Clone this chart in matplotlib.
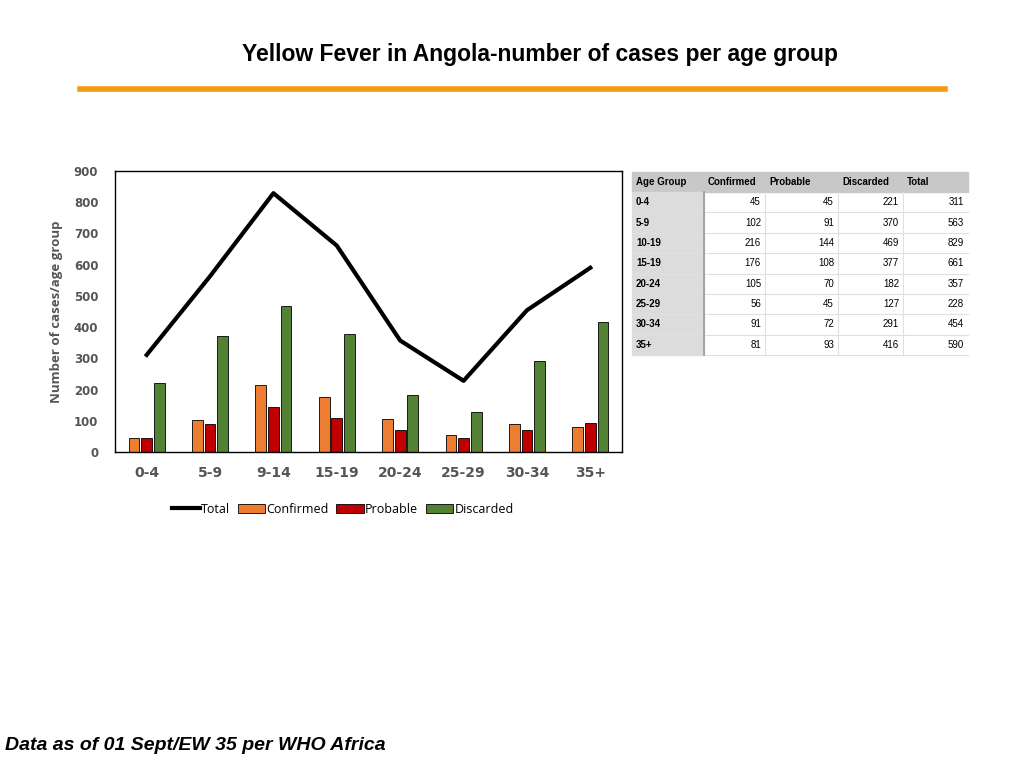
import matplotlib
matplotlib.use("Agg")
import matplotlib.pyplot as plt
import numpy as np
from matplotlib.patches import Rectangle
from matplotlib.lines import Line2D

groups = ["0-4", "5-9", "9-14", "15-19", "20-24", "25-29", "30-34", "35+"]
confirmed = [45, 102, 216, 176, 105, 56, 91, 81]
probable = [45, 91, 144, 108, 70, 45, 72, 93]
discarded = [221, 370, 469, 377, 182, 127, 291, 416]
total = [311, 563, 829, 661, 357, 228, 454, 590]
table_groups = ["0-4", "5-9", "10-19", "15-19", "20-24", "25-29", "30-34", "35+"]
table_header = ["Age Group", "Confirmed", "Probable", "Discarded", "Total"]

C_ORANGE = "#ED7D31"; C_RED = "#C00000"; C_GREEN = "#548235"

fig = plt.figure(figsize=(10.24, 7.68), dpi=100)
fig.text(0.527, 1 - 55/768, "Yellow Fever in Angola-number of cases per age group",
         ha="center", va="center", fontsize=16.5, fontweight="bold", family="Liberation Sans")
fig.add_artist(Line2D([80/1024, 945/1024], [1-89/768]*2, color="#F59A0C", lw=4))
fig.text(5/1024, 1 - 746/768, "Data as of 01 Sept/EW 35 per WHO Africa", ha="left", va="center",
         fontsize=14, fontweight="bold", style="italic", family="Liberation Sans")

ax = fig.add_axes([115/1024, 1-452/768, 507/1024, 281/768])
x = np.arange(len(groups))
w = 0.17
off = 0.2
ax.bar(x - off, confirmed, w, color=C_ORANGE, edgecolor="black", lw=0.6, label="Confirmed")
ax.bar(x, probable, w, color=C_RED, edgecolor="black", lw=0.6, label="Probable")
ax.bar(x + off, discarded, w, color=C_GREEN, edgecolor="black", lw=0.6, label="Discarded")
ax.plot(x, total, color="black", lw=3, label="Total")
ax.set_xlim(-0.5, 7.5); ax.set_ylim(0, 900)
ax.set_yticks(range(0, 901, 100))
ax.set_xticks(x); ax.set_xticklabels(groups)
ax.tick_params(axis="x", length=0, pad=10, labelsize=10, labelcolor="#555555")
ax.tick_params(axis="y", length=0, pad=12, labelsize=8.5, labelcolor="#555555")
for t in ax.get_xticklabels() + ax.get_yticklabels():
    t.set_fontweight("bold")
ax.set_ylabel("Number of cases/age group", fontsize=9.5, fontweight="bold", color="#555555",
              family="Open Sans", labelpad=8)
for s in ax.spines.values():
    s.set_color("black"); s.set_linewidth(1)
ax.legend(loc="upper center", bbox_to_anchor=(0.45, -0.14), ncol=4, frameon=False,
          handlelength=2.2, handletextpad=0.1, columnspacing=0.6,
          prop={"family": "Open Sans", "size": 9})

# table
tax = fig.add_axes([0, 0, 1, 1]); tax.set_xlim(0, 1024); tax.set_ylim(768, 0); tax.axis("off")
cols = [632, 704, 765, 838, 903, 968]
top, hh = 172, 20
rh = (355 - 192) / 8
tax.add_patch(Rectangle((632, top), 336, hh, color="#C8C8C8"))
tax.add_patch(Rectangle((632, top + hh), 72, 355 - top - hh, color="#DCDCDC"))
for i, h in enumerate(table_header):
    tax.text(cols[i] + 4, top + hh/2, h, fontsize=7, fontweight="bold", va="center",
             family="Liberation Sans")
for r in range(8):
    yc = top + hh + rh * (r + 0.5)
    tax.text(cols[0] + 4, yc, table_groups[r], fontsize=7, fontweight="bold", va="center",
             family="Liberation Sans")
    vals = [confirmed[r], probable[r], discarded[r], total[r]]
    for j, v in enumerate(vals):
        tax.text(cols[j + 2] - 4, yc, str(v), fontsize=7, ha="right", va="center",
                 family="Liberation Sans")
    yl = top + hh + rh * (r + 1)
    tax.plot([632, 968], [yl, yl], color="#E0E0E0", lw=0.8)
for c in cols[2:-1]:
    tax.plot([c, c], [top + hh, 355], color="#E0E0E0", lw=0.8)
tax.plot([704, 704], [top + hh, 355], color="#999999", lw=1.2)

fig.savefig("out.png", dpi=100)
